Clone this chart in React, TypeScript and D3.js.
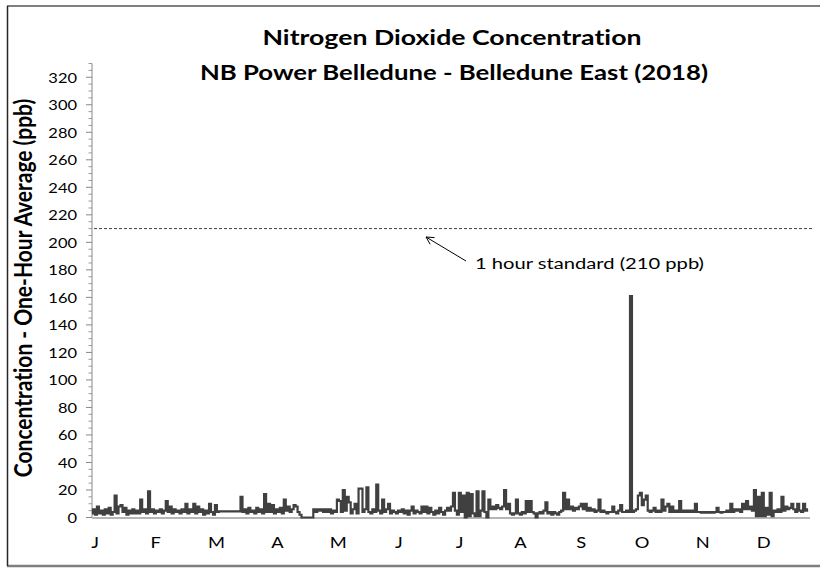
import React from "react";
import * as d3 from "d3";

// Daily one-hour NO2 readings (ppb), one array per calendar month
const janPpb = [3, 6, 2, 8, 3, 5, 2, 6, 3, 7, 2, 4, 16, 3, 8, 9, 4, 7, 2, 5, 3, 6, 3, 5, 3, 13, 4, 6, 3, 19, 4];
const febPpb = [6, 3, 5, 4, 6, 3, 5, 12, 4, 8, 3, 6, 4, 5, 3, 6, 4, 10, 3, 6, 4, 10, 3, 8, 4, 6, 2, 5];
const marPpb = [3, 10, 4, 2, 9, 4, 4.5, 4.5, 4.5, 4.5, 4.5, 4.5, 4.5, 4.5, 4.5, 4.5, 4.5, 15, 4, 6, 3, 7, 4, 5, 3, 7, 4, 6, 3, 17, 4];
const aprPpb = [10, 4, 9, 3, 6, 4, 7, 3, 13, 5, 8, 4, 6, 9, 8, 4, 2, 0, 0, 0, 0, 0, 0, 6, 4, 6, 5, 6, 4, 6];
const mayPpb = [4, 6, 3, 5, 4, 13, 12, 4, 20, 5, 15, 11, 3, 6, 10, 3, 21, 21, 4, 6, 22, 4, 3, 6, 4, 24, 5, 3, 13, 4, 6];
const junPpb = [10, 3, 5, 4, 3, 5, 4, 6, 3, 5, 2, 5, 8, 3, 5, 4, 3, 8, 4, 8, 3, 7, 4, 2, 5, 3, 7, 4, 2, 5];
const julPpb = [7, 5, 8, 18, 5, 2, 18, 4, 16, 0, 18, 1, 17, 3, 1, 19, 1, 5, 19, 4, 0, 13, 6, 8, 6, 9, 7, 6, 8, 20, 6];
const augPpb = [10, 3, 2, 3, 13, 3, 2, 4, 3, 12, 4, 12, 4, 3, 0, 3, 4, 3, 5, 11, 3, 4, 2, 4, 3, 2, 4, 5, 18, 6, 13];
const sepPpb = [6, 8, 5, 7, 6, 8, 10, 6, 10, 5, 7, 5, 6, 4, 5, 13, 4, 5, 4, 3, 4, 4, 8, 4, 3, 5, 9, 4, 4, 5];
const octPpb = [4, 161, 4, 5, 6, 16, 18, 9, 13, 16, 5, 4, 5, 7, 4, 5, 4, 13, 5, 8, 10, 4, 8, 4, 5, 4, 12, 4, 5, 4, 5];
const novPpb = [4, 5, 4, 10, 4, 4, 3.5, 4, 3.5, 4, 3.5, 4, 3.5, 4, 7, 4, 3.5, 4, 4, 5, 4, 10, 4, 6, 5, 6, 4, 10, 6, 12];
const decPpb = [6, 8, 5, 20, 1, 15, 1, 18, 1, 7, 2, 18, 1, 5, 4, 6, 4, 15, 5, 8, 6, 7, 10, 6, 4, 10, 5, 4, 10, 5, 6];

const monthly = [janPpb, febPpb, marPpb, aprPpb, mayPpb, junPpb, julPpb, augPpb, sepPpb, octPpb, novPpb, decPpb];
const monthLabels = ["J", "F", "M", "A", "M", "J", "J", "A", "S", "O", "N", "D"];
const labelEveryDays = 30.9;
const yMax = 330;
const yMajorTicks = d3.range(0, 321, 20);
const yMinorTicks = d3.range(0, yMax + 1, 5).filter(v => v % 20 !== 0);
const standardPpb = 210;
const standardLabel = "1 hour standard (210 ppb)";

interface Reading {
  day: number;
  ppb: number;
}

const readings: Reading[] = [];
let dayCount = 0;
monthly.forEach(vals => {
  vals.forEach((v, i) => readings.push({ day: dayCount + i, ppb: v }));
  dayCount += vals.length;
});

const W = 820;
const H = 568;
const SX = 1.22; // the chart text is drawn a little wide
const FONT = "Lato, 'Open Sans', sans-serif";

const STxt: React.FC<{
  x: number;
  y: number;
  size: number;
  bold?: boolean;
  anchor?: string;
  rotate?: boolean;
  len?: number;
  children: React.ReactNode;
}> = ({ x, y, size, bold, anchor = "middle", rotate, len, children }) => (
  <text
    transform={`translate(${x},${y}) scale(${SX},1)${rotate ? " rotate(-90)" : ""}`}
    textAnchor={anchor}
    dominantBaseline="central"
    fontFamily={FONT}
    fontSize={size}
    fontWeight={bold ? 700 : 400}
    fill="#000"
    style={{ fontVariantLigatures: "none" }}
    textLength={len ? len / SX : undefined}
    lengthAdjust={len ? "spacingAndGlyphs" : undefined}
  >
    {children}
  </text>
);

const App: React.FC = () => {
  const x = d3.scaleLinear().domain([0, 365]).range([92, 810]);
  const y = d3.scaleLinear().domain([0, yMax]).range([517.5, 63.5]);

  const line = d3
    .line<Reading>()
    .x(d => x(d.day))
    .y(d => y(d.ppb))
    .curve(d3.curveStep);

  const axisX = x(0);
  const yStd = y(standardPpb);

  return (
    <svg
      width={W}
      height={H}
      style={{ position: "absolute", left: 0, top: 0, background: "#fff" }}
    >
      {/* chart frame */}
      <line x1={7} y1={6} x2={W} y2={6} stroke="#7f7f7f" strokeWidth={2} />
      <line x1={7} y1={566} x2={W} y2={566} stroke="#7f7f7f" strokeWidth={2.5} />
      <line x1={7.5} y1={6} x2={7.5} y2={566} stroke="#262626" strokeWidth={1.5} />

      {/* titles */}
      <STxt x={452} y={37} size={21} bold len={379}>
        Nitrogen Dioxide Concentration
      </STxt>
      <STxt x={454} y={72} size={21} bold len={508}>
        NB Power Belledune - Belledune East (2018)
      </STxt>
      <STxt x={22} y={288} size={21} bold rotate>
        Concentration - One-Hour Average (ppb)
      </STxt>

      {/* y axis */}
      <line x1={axisX} y1={y(yMax)} x2={axisX} y2={y(0)} stroke="#888" strokeWidth={1} />
      {yMinorTicks.map(t => (
        <line key={"m" + t} x1={axisX - 3.5} x2={axisX} y1={y(t)} y2={y(t)} stroke="#999" />
      ))}
      {yMajorTicks.map(t => (
        <g key={t}>
          <line x1={axisX - 6} x2={axisX} y1={y(t)} y2={y(t)} stroke="#888" />
          <STxt x={77} y={y(t)} size={13.5} anchor="end">
            {t}
          </STxt>
        </g>
      ))}

      {/* x axis */}
      <line x1={axisX} y1={518} x2={x(365)} y2={518} stroke="#b5b5b5" strokeWidth={2} />
      {monthLabels.map((m, i) => (
        <STxt key={i} x={x(i * labelEveryDays) + 3} y={542} size={15}>
          {m}
        </STxt>
      ))}

      {/* 1 hour standard */}
      <line
        x1={axisX + 2}
        x2={812}
        y1={yStd}
        y2={yStd}
        stroke="#404040"
        strokeWidth={1}
        strokeDasharray="3,2"
      />
      <line x1={466} y1={261} x2={426} y2={237} stroke="#000" strokeWidth={1} />
      <path d="M426,237 l8.5,0.6 M426,237 l4.2,7.3" stroke="#000" strokeWidth={1} fill="none" />
      <STxt x={475} y={263} size={16} anchor="start" len={229}>
        {standardLabel}
      </STxt>

      {/* readings */}
      <path
        d={line(readings) ?? ""}
        fill="none"
        stroke="#404040"
        strokeWidth={2.2}
        strokeLinejoin="miter"
      />
    </svg>
  );
};

export default App;
